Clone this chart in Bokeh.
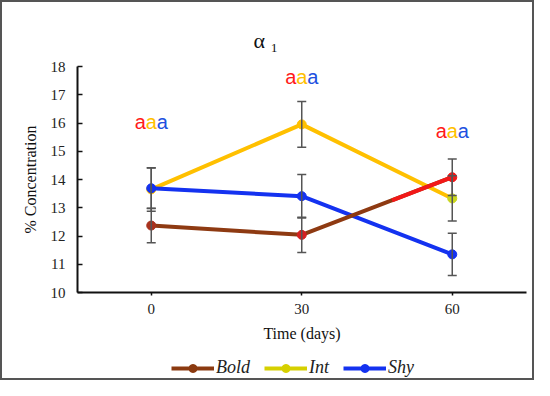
from bokeh.plotting import figure
from bokeh.layouts import column
from bokeh.models import (ColumnDataSource, Range1d, FixedTicker, Whisker, TeeHead,
                          Legend, LegendItem)
from bokeh.core.properties import value
from bokeh.embed import file_html
from bokeh.resources import INLINE

# ---- data ----
days = [0, 30, 60]
bold = [12.37, 12.04, 14.08]
bold_err = [0.61, 0.62, 0.65]
intm = [13.65, 15.95, 13.33]
int_err = [0.77, 0.81, 0.80]
shy = [13.69, 13.41, 11.35]
shy_err = [0.72, 0.77, 0.75]
y_ticks = [10, 11, 12, 13, 14, 15, 16, 17, 18]
sig_labels = ["a", "a", "a"]
sig_y = [16.03, 17.62, 15.73]
series_names = ["Bold", "Int", "Shy"]

# ---- styles ----
SERIF = "Liberation Serif"
SANS = "Liberation Sans"
c_bold = "#8E3A12"
c_bold_red = "#F21818"
c_int = "#FFC000"
c_shy = "#1432F0"
err_col = "#555555"
bold_marker_cols = ["#A8321E", "#D42020", "#F21818"]
int_marker_cols = ["#FFC000", "#FFC000", "#C9D61E"]
sig_cols = ["#FF1A1A", "#FFC000", "#2050E0"]
BORDER = "2px solid #555555"

p = figure(width=534, height=348, output_backend="svg", toolbar_location=None,
           x_range=Range1d(-14.7, 74.8), y_range=Range1d(10, 18),
           min_border_left=75, min_border_right=10, min_border_top=64,
           min_border_bottom=58)
p.styles = {"border-left": BORDER, "border-right": BORDER, "border-top": BORDER,
            "box-sizing": "border-box"}
p.outline_line_color = None
p.xgrid.visible = False
p.ygrid.visible = False
p.background_fill_color = "white"
p.border_fill_color = "white"

# title "α ₁"
p.title.text = "α ₁"
p.title.text_font = SERIF
p.title.text_font_size = "22px"
p.title.text_font_style = "normal"
p.title.text_color = "#111111"
p.title.align = "left"
p.title.offset = 176
p.title.standoff = 27

# axes
for ax in (p.xaxis[0], p.yaxis[0]):
    ax.axis_line_color = "#111111"
    ax.axis_line_width = 2
    ax.major_tick_line_color = "#111111"
    ax.major_tick_line_width = 1.5
    ax.minor_tick_line_color = None
    ax.major_label_text_font = SERIF
    ax.major_label_text_font_size = "15px"
    ax.major_label_text_color = "#222222"
    ax.axis_label_text_font = SERIF
    ax.axis_label_text_font_size = "16px"
    ax.axis_label_text_font_style = "normal"
    ax.axis_label_text_color = "#111111"

p.yaxis.ticker = FixedTicker(ticks=y_ticks)
p.yaxis.major_tick_in = 5
p.yaxis.major_tick_out = 0
p.yaxis.major_label_standoff = 12
p.yaxis.axis_label = "% Concentration"
p.yaxis.axis_label_standoff = 9

p.xaxis.ticker = FixedTicker(ticks=days)
p.xaxis.major_tick_in = 0
p.xaxis.major_tick_out = 3
p.xaxis.major_label_standoff = 8
p.xaxis.axis_label = "Time (days)"
p.xaxis.axis_label_standoff = 8

def src(y, e, cols):
    return ColumnDataSource(dict(x=days, y=y,
                                 upper=[a + b for a, b in zip(y, e)],
                                 lower=[a - b for a, b in zip(y, e)],
                                 c=cols))

s_bold = src(bold, bold_err, bold_marker_cols)
s_int = src(intm, int_err, int_marker_cols)
s_shy = src(shy, shy_err, [c_shy] * 3)

# lines
p.line("x", "y", source=s_int, line_color=c_int, line_width=4)
p.scatter("x", "y", source=s_int, size=9, fill_color="c", line_color="c")
p.line("x", "y", source=s_shy, line_color=c_shy, line_width=4)
p.scatter("x", "y", source=s_shy, size=9, fill_color="c", line_color="c")
p.line("x", "y", source=s_bold, line_color=c_bold, line_width=4)
# red tail of the Bold line (last part of final segment)
f = 0.6
x_mid = days[1] + f * (days[2] - days[1])
y_mid = bold[1] + f * (bold[2] - bold[1])
p.line([x_mid, days[2]], [y_mid, bold[2]], line_color=c_bold_red, line_width=4)
p.scatter("x", "y", source=s_bold, size=9, fill_color="c", line_color="c")

# error bars
for s in (s_bold, s_int, s_shy):
    w = Whisker(source=s, base="x", upper="upper", lower="lower",
                line_color=err_col, line_width=1.5, level="overlay",
                upper_head=TeeHead(size=9, line_color=err_col, line_width=1.5),
                lower_head=TeeHead(size=9, line_color=err_col, line_width=1.5))
    p.add_layout(w)

# significance letters
for i, col in enumerate(sig_cols):
    p.text(x=days, y=sig_y, text=sig_labels, text_color=col,
           text_font=value(SANS), text_font_size="20px",
           text_align="center", text_baseline="middle",
           x_offset=(i - 1) * 11)

# ---- legend strip (separate small figure below) ----
lg = figure(width=534, height=32, output_backend="svg", toolbar_location=None,
            x_range=Range1d(-14.7, 74.8), y_range=Range1d(0, 1),
            min_border=0, min_border_left=0, min_border_right=0,
            min_border_top=0, min_border_bottom=0)
lg.styles = {"border-left": BORDER, "border-right": BORDER, "border-bottom": BORDER,
             "box-sizing": "border-box"}
lg.axis.visible = False
lg.grid.visible = False
lg.outline_line_color = None
lg.background_fill_color = "white"
lg.border_fill_color = "white"

# legend renderers: same series, but out of this strip's view (only the key shows)
leg_cols = ["#8B3A10", "#D6D000", "#1432F0"]
items = []
for name, col, ys in zip(series_names, leg_cols, [bold, intm, shy]):
    r1 = lg.line(x=days, y=ys, line_color=col, line_width=4)
    r2 = lg.scatter(x=days, y=ys, size=9, fill_color=col, line_color=col)
    items.append(LegendItem(label=name, renderers=[r1, r2]))
legend = Legend(items=items, orientation="horizontal", location=(94, 2),
                glyph_width=43, glyph_height=20, label_height=20,
                label_standoff=2, spacing=14, padding=0, margin=0,
                border_line_color=None, background_fill_alpha=0,
                label_text_font=SERIF, label_text_font_style="italic",
                label_text_font_size="18px", label_text_color="#222222")
lg.add_layout(legend, "center")

layout = column(p, lg, spacing=0)
open("out.html", "w").write(file_html(layout, INLINE))
